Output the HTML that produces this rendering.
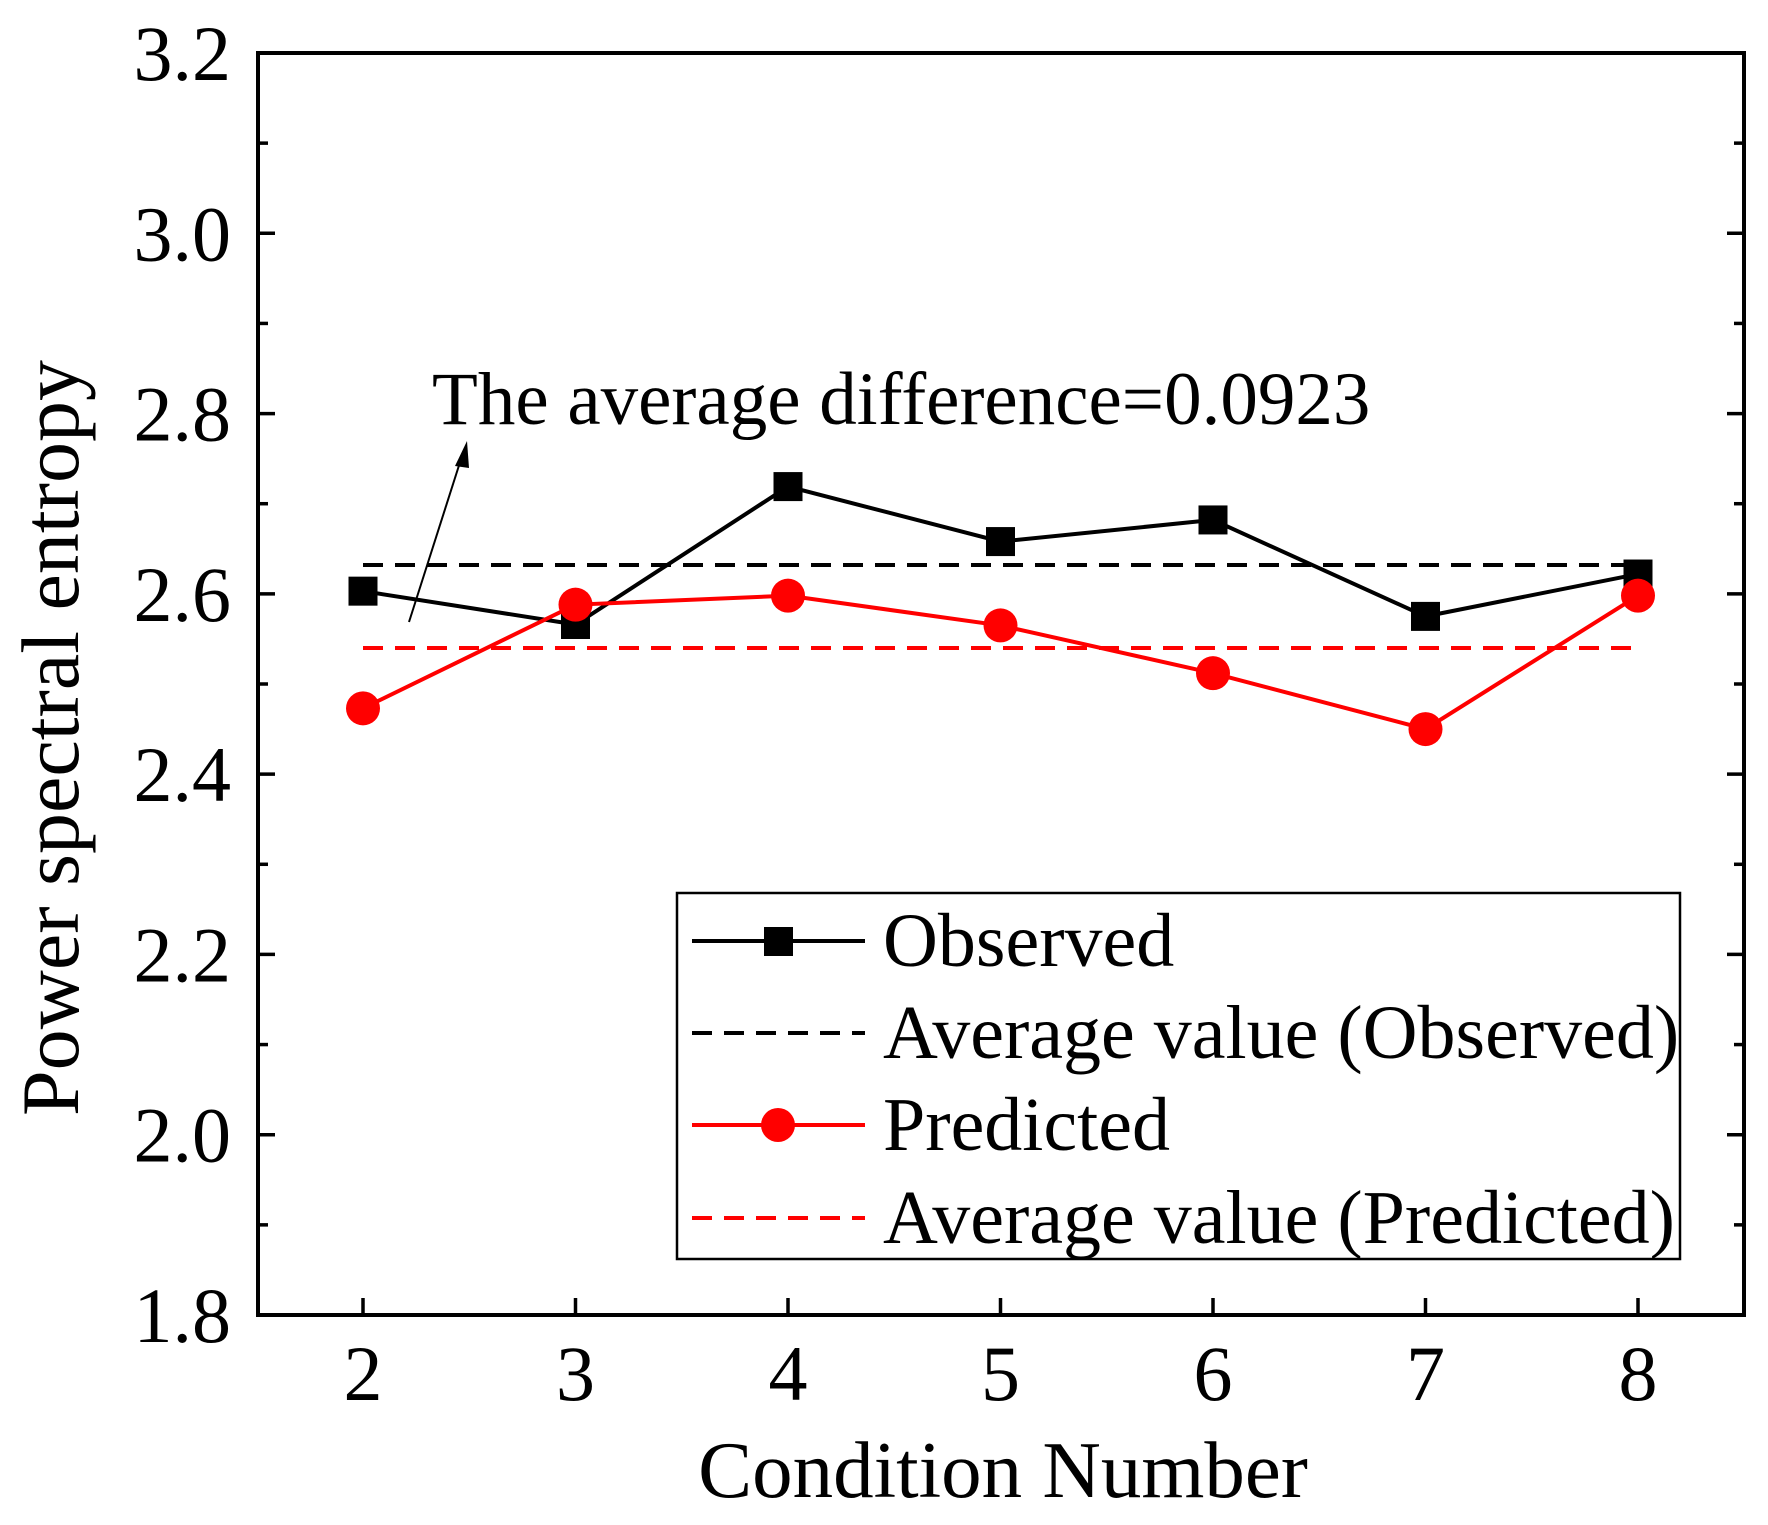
<!DOCTYPE html>
<html><head><meta charset="utf-8"><style>
body{margin:0;background:#fff}
text{font-family:"Liberation Serif",serif;fill:#000}
</style></head><body>
<svg id="chart" width="1768" height="1520" xmlns="http://www.w3.org/2000/svg">
<g id="axes"></g><g id="plot"></g>
<rect x="677" y="893" width="1003" height="366" fill="#fff" stroke="#000" stroke-width="2.5"/>
<g><line x1="692" y1="941" x2="865" y2="941" stroke="#000" stroke-width="4"/><rect x="764" y="927" width="29" height="29" fill="#000"/><text x="883" y="966" font-size="76">Observed</text></g>
<g><line x1="692" y1="1033" x2="865" y2="1033" stroke="#000" stroke-width="4" stroke-dasharray="20,12"/><text x="883" y="1058" font-size="76">Average value (Observed)</text></g>
<g><line x1="692" y1="1125" x2="865" y2="1125" stroke="#f00" stroke-width="4"/><circle cx="778" cy="1125" r="17" fill="#f00"/><text x="883" y="1150" font-size="76">Predicted</text></g>
<g><line x1="692" y1="1218" x2="865" y2="1218" stroke="#f00" stroke-width="4" stroke-dasharray="20,12"/><text x="883" y="1243" font-size="76">Average value (Predicted)</text></g>
<text x="432" y="424" font-size="75">The average difference=0.0923</text>
<g><line x1="409" y1="622" x2="462" y2="456" stroke="#000" stroke-width="2"/><polygon points="467,441 455,466 469,468" fill="#000"/></g>
<text x="1003" y="1497" font-size="81" text-anchor="middle">Condition Number</text>
<text transform="translate(78,738) rotate(-90)" font-size="82" text-anchor="middle">Power spectral entropy</text>
</svg>
<script>
const categories=[2,3,4,5,6,7,8];
const observed=[2.603,2.566,2.719,2.658,2.682,2.575,2.622];
const predicted=[2.473,2.588,2.598,2.565,2.512,2.45,2.598];
const avgObserved=[2.632];
const avgPredicted=[2.54];
const yTicks=[1.8,2.0,2.2,2.4,2.6,2.8,3.0,3.2];
const L=258,R=1744,T=53,B=1315;
const xs=c=>363+(c-2)*(1638-363)/6;
const ys=v=>B-(v-1.8)*(B-T)/1.4;
const NS="http://www.w3.org/2000/svg";
function mk(p,tag,at){const e=document.createElementNS(NS,tag);for(const k in at)e.setAttribute(k,at[k]);p.appendChild(e);return e;}
const ax=document.getElementById('axes'),pl=document.getElementById('plot');
const frame=mk(ax,'rect',{x:L,y:T,width:R-L,height:B-T,fill:'none',stroke:'#000','stroke-width':4});


yTicks.forEach((v,i)=>{const y=ys(v);
 mk(ax,'line',{x1:L,y1:y,x2:L+17,y2:y,stroke:'#000','stroke-width':3.5});
 mk(ax,'line',{x1:R,y1:y,x2:R-17,y2:y,stroke:'#000','stroke-width':3.5});
 if(i<yTicks.length-1){const ym=ys(v+0.1);
  mk(ax,'line',{x1:L,y1:ym,x2:L+10,y2:ym,stroke:'#000','stroke-width':3.5});
  mk(ax,'line',{x1:R,y1:ym,x2:R-10,y2:ym,stroke:'#000','stroke-width':3.5});}
 const t=mk(ax,'text',{x:231,y:y+27,'font-size':78,'text-anchor':'end'});t.textContent=v.toFixed(1);
 
 
});
categories.forEach(c=>{const x=xs(c);
 mk(ax,'line',{x1:x,y1:B,x2:x,y2:B-17,stroke:'#000','stroke-width':3.5});
 const t=mk(ax,'text',{x:x,y:1400,'font-size':78,'text-anchor':'middle'});t.textContent=c;
 
 
});
const ao=mk(pl,'line',{x1:xs(2),y1:ys(avgObserved[0]),x2:xs(8),y2:ys(avgObserved[0]),stroke:'#000','stroke-width':4,'stroke-dasharray':'20,12'});


const ap=mk(pl,'line',{x1:xs(2),y1:ys(avgPredicted[0]),x2:xs(8),y2:ys(avgPredicted[0]),stroke:'#f00','stroke-width':4,'stroke-dasharray':'20,12'});


const lo=mk(pl,'polyline',{points:categories.map((c,i)=>xs(c)+','+ys(observed[i])).join(' '),fill:'none',stroke:'#000','stroke-width':4});


const lp=mk(pl,'polyline',{points:categories.map((c,i)=>xs(c)+','+ys(predicted[i])).join(' '),fill:'none',stroke:'#f00','stroke-width':4});


categories.forEach((c,i)=>{
 const s=mk(pl,'rect',{x:xs(c)-14.5,y:ys(observed[i])-14.5,width:29,height:29,fill:'#000'});
 
 
});
categories.forEach((c,i)=>{
 const p=mk(pl,'circle',{cx:xs(c),cy:ys(predicted[i]),r:17,fill:'#f00'});
 
 
});
</script>
</body></html>
